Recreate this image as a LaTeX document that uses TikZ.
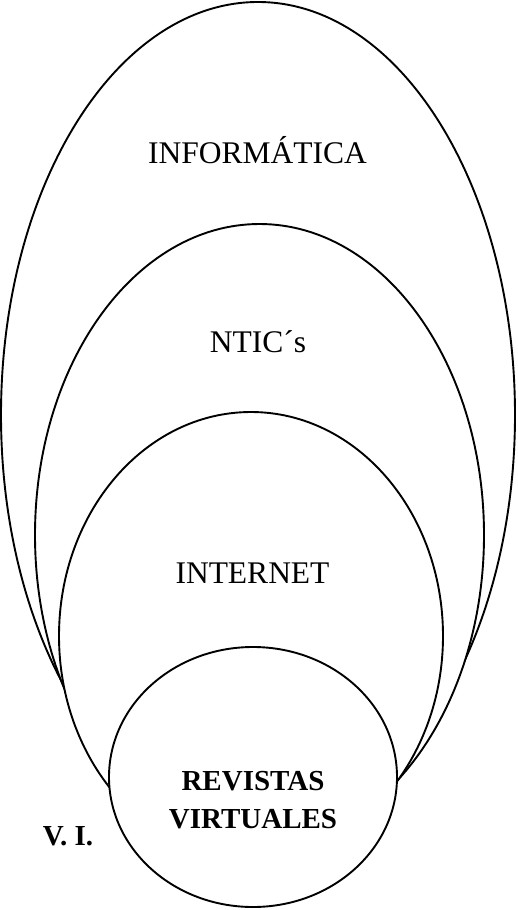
\documentclass[tikz,border=0pt]{standalone}
\usepackage{fontspec}
\setmainfont{Liberation Serif}
\usetikzlibrary{shapes.geometric}
\begin{document}
\begin{tikzpicture}[x=1pt,y=-1pt,
  ring/.style={shape=ellipse,draw=black,line width=1.9pt,fill=white,inner sep=0pt},
  lbl/.style={font=\fontsize{31.5}{34}\selectfont,inner sep=0pt,anchor=base},
  blbl/.style={font=\fontsize{29}{31}\selectfont\bfseries,inner sep=0pt,anchor=base}]
\useasboundingbox (0,0) rectangle (517,910);
\node[ring,minimum width=514pt,minimum height=826pt] (informatica) at (258,415) {};
\node[ring,minimum width=449pt,minimum height=622pt] (ntics) at (259.5,535) {};
\node[ring,minimum width=384pt,minimum height=448pt] (internet) at (251,636) {};
\node[ring,minimum width=288pt,minimum height=260pt] (revistas) at (253,777) {};
\node[lbl] (t1) at (257.5,163) {INFORMÁTICA};
\node[lbl] (t2) at (258,352) {NTIC´s};
\node[lbl] (t3) at (252.5,583) {INTERNET};
\node[blbl] (t4) at (253,790) {REVISTAS};
\node[blbl] (t5) at (253,828) {VIRTUALES};
\node[blbl] (t6) at (68,845) {V. I.};
\end{tikzpicture}
\end{document}
